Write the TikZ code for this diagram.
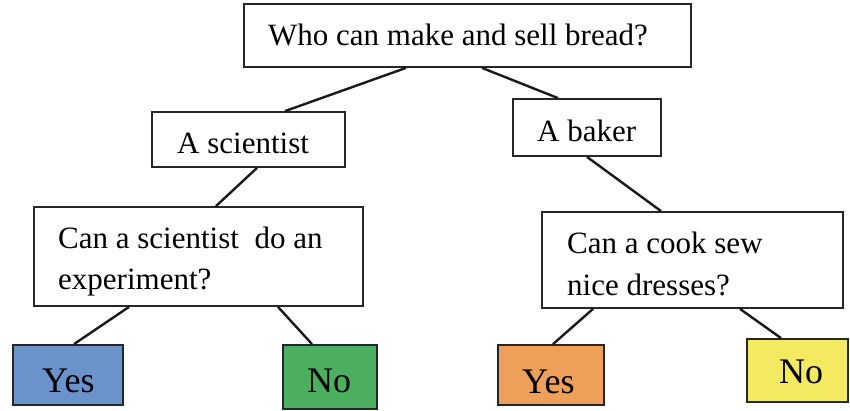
\documentclass[tikz,border=0pt]{standalone}
\usepackage{fontspec}
\setmainfont{Liberation Serif}
\begin{document}
\begin{tikzpicture}[x=1pt,y=-1pt,
  box/.style={draw=black!85,line width=1.8pt,inner sep=0pt,rectangle},
  lbl/.style={anchor=base west,inner sep=0pt,font=\fontsize{31}{37}\selectfont},
  big/.style={anchor=base west,inner sep=0pt,font=\fontsize{36}{40}\selectfont},
  conn/.style={draw=black!90,line width=2.4pt}]
\useasboundingbox (0,0) rectangle (850,410);
\definecolor{cblue}{HTML}{6A93CC}
\definecolor{cgreen}{HTML}{4CAF5F}
\definecolor{corange}{HTML}{EE9F5A}
\definecolor{cyellow}{HTML}{F4EA62}
% boxes
\node[box,minimum width=447pt,minimum height=63pt] (top) at (467.5,35.5) {};
\node[box,minimum width=193pt,minimum height=55pt] (sci) at (248.5,139.5) {};
\node[box,minimum width=148pt,minimum height=57pt] (bak) at (587,127.5) {};
\node[box,minimum width=329pt,minimum height=99pt] (ql) at (198.5,256.5) {};
\node[box,minimum width=301pt,minimum height=96pt] (qr) at (692.5,260) {};
\node[box,fill=cblue,minimum width=110pt,minimum height=60pt] (yl) at (68,375) {};
\node[box,fill=cgreen,minimum width=94pt,minimum height=64pt] (nl) at (330,377) {};
\node[box,fill=corange,minimum width=106pt,minimum height=60pt] (yr) at (551,375) {};
\node[box,fill=cyellow,minimum width=101pt,minimum height=63pt] (nr) at (797.5,370.5) {};
% texts
\node[lbl] (ttop) at (268,45) {Who can make and sell bread?};
\node[lbl] (tsci) at (177,153) {A scientist};
\node[lbl] (tbak) at (537,141) {A baker};
\node[lbl] (tql1) at (58,248) {Can a scientist\ \ do an};
\node[lbl] (tql2) at (58,289) {experiment?};
\node[lbl] (tqr1) at (567,253) {Can a cook sew};
\node[lbl] (tqr2) at (567,295) {nice dresses?};
\node[big] (tyl) at (42,392) {Yes};
\node[big] (tnl) at (307,392) {No};
\node[big] (tyr) at (522,393) {Yes};
\node[big] (tnr) at (779,383) {No};
% connectors
\draw[conn] ([xshift=-61.5pt]top.south) -- ([xshift=36.5pt]sci.north);
\draw[conn] ([xshift=14.5pt]top.south) -- ([xshift=-29pt]bak.north);
\draw[conn] ([xshift=8.5pt]sci.south) -- ([xshift=17.5pt]ql.north);
\draw[conn] (bak.south) -- ([xshift=-31.5pt]qr.north);
\draw[conn] ([xshift=-69.5pt]ql.south) -- ([xshift=6pt]yl.north);
\draw[conn] ([xshift=79.5pt]ql.south) -- ([xshift=-18pt]nl.north);
\draw[conn] ([xshift=-99.5pt]qr.south) -- ([xshift=2pt]yr.north);
\draw[conn] ([xshift=47.5pt]qr.south) -- ([xshift=-16.5pt]nr.north);
\end{tikzpicture}
\end{document}
